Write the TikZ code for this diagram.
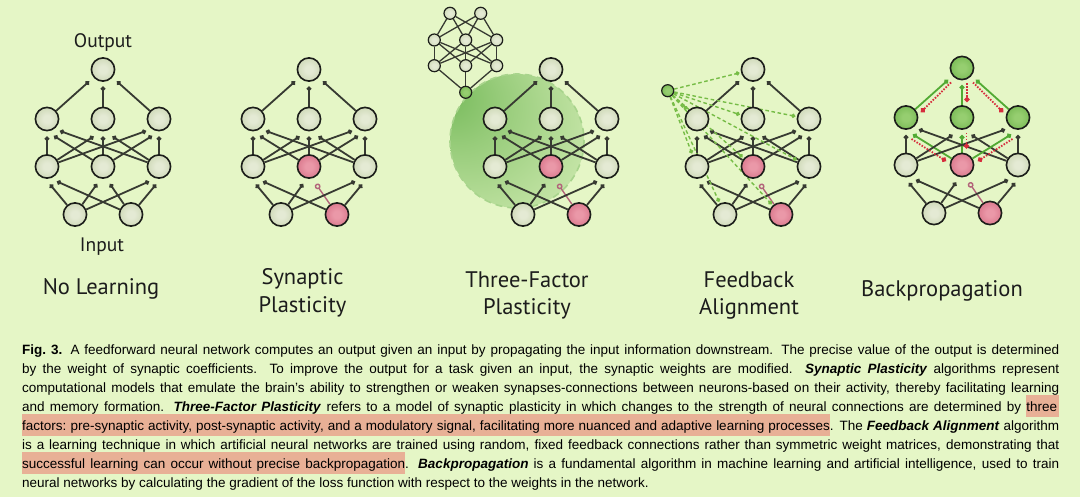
\documentclass[tikz,border=0pt]{standalone}
\usepackage{fontspec}
\setmainfont{Liberation Sans}
\newfontfamily\titlefont{PT Sans}
\usetikzlibrary{arrows.meta,calc}
\pgfdeclarelayer{bg}
\pgfsetlayers{bg,main}
\definecolor{bgc}{RGB}{229,246,198}
\definecolor{edgec}{RGB}{55,58,50}
\definecolor{nodeborder}{RGB}{28,30,26}
\definecolor{nA}{RGB}{228,234,212}
\definecolor{nB}{RGB}{180,196,148}
\definecolor{rA}{RGB}{234,152,168}
\definecolor{rB}{RGB}{198,80,106}
\definecolor{gA}{RGB}{150,206,112}
\definecolor{gB}{RGB}{88,164,54}
\definecolor{pinkc}{RGB}{178,100,122}
\definecolor{fbc}{RGB}{118,188,70}
\definecolor{bpg}{RGB}{82,170,52}
\definecolor{bpr}{RGB}{214,44,60}
\definecolor{glowc}{RGB}{118,186,90}
\colorlet{glowA}{glowc!70!bgc}
\colorlet{glowB}{glowc!22!bgc}
\definecolor{dashc}{RGB}{168,212,140}
\definecolor{hlc}{RGB}{232,176,150}
\definecolor{txt}{RGB}{28,28,28}
\pgfdeclareradialshading{neutralsh}{\pgfpoint{0bp}{0bp}}{color(0bp)=(nA); color(8bp)=(nA); color(50bp)=(nB)}
\pgfdeclareradialshading{redsh}{\pgfpoint{0bp}{0bp}}{color(0bp)=(rA); color(8bp)=(rA); color(50bp)=(rB)}
\pgfdeclareradialshading{greensh}{\pgfpoint{0bp}{0bp}}{color(0bp)=(gA); color(8bp)=(gA); color(50bp)=(gB)}
\pgfdeclareradialshading{glowsh}{\pgfpoint{-28bp}{18bp}}{color(0bp)=(glowc); color(16bp)=(glowA); color(45bp)=(glowB); color(72bp)=(bgc)}
% highlight helpers
\newcommand\hlbox[1]{\setbox0=\hbox{#1}\rlap{\textcolor{hlc}{\rule[-5.3pt]{\wd0}{21.8pt}}}\box0}
\newcommand\hlspace{{\color{hlc}\leaders\hrule height 16.5pt depth 5.3pt\hskip\fontdimen2\font plus\fontdimen3\font minus\fontdimen4\font}}
\def\hlwords#1 #2\hlend{\hlbox{#1}\if\relax\detokenize{#2}\relax\else\hlspace\hlwords#2\hlend\fi}
\newcommand\hl[1]{\hlwords#1 \hlend}
% network helpers
\newcommand\netnodes[7]{%
 \node[#3] (#1o) at ({#2},{#7+69.5}) {};
 \node[#4] (#1h1) at ({#2-56},{#7+119}) {};
 \node[#4] (#1h2) at ({#2},{#7+119}) {};
 \node[#4] (#1h3) at ({#2+56},{#7+119}) {};
 \node[neuron] (#1l1) at ({#2-56},{#7+166.5}) {};
 \node[#5] (#1l2) at ({#2},{#7+166.5}) {};
 \node[neuron] (#1l3) at ({#2+56},{#7+166.5}) {};
 \node[neuron] (#1i1) at ({#2-28},{#7+214.5}) {};
 \node[#6] (#1i2) at ({#2+28},{#7+214.5}) {};
}
\newcommand\stdedges[4]{%
 \draw[#2] (#1h1) -- ($(#1o)+(-14,12)$);
 \draw[#2] (#1h2) -- ($(#1o)+(0,17)$);
 \draw[#2] (#1h3) -- ($(#1o)+(14,12)$);
 \draw[conn] (#1l1) -- ($(#1h1)+(0,17.5)$);
 \draw[#3] (#1l2) -- ($(#1h1)+(7,17)$);
 \draw[conn] (#1l3) -- ($(#1h1)+(13,12)$);
 \draw[conn] (#1l1) -- ($(#1h2)+(-9.5,17.5)$);
 \draw[#3] (#1l2) -- ($(#1h2)+(0,17.5)$);
 \draw[conn] (#1l3) -- ($(#1h2)+(9.5,17.5)$);
 \draw[conn] (#1l1) -- ($(#1h3)+(-13,12)$);
 \draw[#3] (#1l2) -- ($(#1h3)+(-7,17)$);
 \draw[conn] (#1l3) -- ($(#1h3)+(0,17.5)$);
 \draw[conn] (#1i1) -- ($(#1l1)+(3,18)$);
 \draw[conn] (#1i2) -- ($(#1l1)+(10,15)$);
 \draw[conn] (#1i1) -- ($(#1l2)+(-6,17.5)$);
 \draw[#4] (#1i2) -- ($(#1l2)+(7,17.5)$);
 \draw[conn] (#1i1) -- ($(#1l3)+(-10,15)$);
 \draw[conn] (#1i2) -- ($(#1l3)+(-3,18)$);
}
\begin{document}
\begin{tikzpicture}[x=1pt,y=-1pt,
 neuron/.style={circle, draw=nodeborder, line width=1.6pt, minimum size=23.2pt, inner sep=0pt, shade, shading=neutralsh},
 redn/.style={neuron, shading=redsh},
 greenn/.style={neuron, shading=greensh},
 smalln/.style={neuron, minimum size=12pt, line width=1.2pt},
 smallg/.style={smalln, shading=greensh},
 conn/.style={draw=edgec, line width=1.8pt, -{Circle[length=4.6pt]}},
 plainconn/.style={draw=edgec, line width=1.3pt},
 pinkconn/.style={draw=pinkc, line width=1.4pt, -{Circle[open,length=5.8pt]}},
 bpconn/.style={draw=bpg, line width=1.8pt, -{Circle[length=4.8pt]}},
 bpdot/.style={draw=bpr, line width=1.8pt, dash pattern=on 1.5pt off 1.5pt, -{Circle[length=5pt]}},
 fbconn/.style={draw=fbc, line width=1.4pt, dash pattern=on 3.6pt off 2.6pt, -{Circle[length=4.2pt]}},
 titlet/.style={font=\titlefont\fontsize{22.5}{27}\selectfont, text=txt, anchor=base, inner sep=0pt},
 labelt/.style={font=\titlefont\fontsize{19.5}{24}\selectfont, text=txt, anchor=base, inner sep=0pt},
 capline/.style={anchor=base west, inner sep=0pt, font=\fontsize{13.5}{16}\selectfont, text=black},
]
\useasboundingbox (0,0) rectangle (1080,497);

% ---------- networks ----------
\netnodes{a}{103}{neuron}{neuron}{neuron}{neuron}{0}
\netnodes{b}{309}{neuron}{neuron}{redn}{redn}{0}
\netnodes{c}{551}{neuron}{neuron}{redn}{redn}{0}
\netnodes{d}{753}{neuron}{neuron}{redn}{redn}{0}
\netnodes{e}{962}{greenn}{greenn}{redn}{redn}{-1.5}

% small modulatory network (three-factor)
\node[smalln] (s1) at (450,13.3) {};
\node[smalln] (s2) at (480.7,13.3) {};
\node[smalln] (s3) at (434.3,40) {};
\node[smalln] (s4) at (465.7,40) {};
\node[smalln] (s5) at (496.7,40) {};
\node[smalln] (s6) at (434.3,65.7) {};
\node[smalln] (s7) at (465.7,65.7) {};
\node[smalln] (s8) at (496.7,65.7) {};
\node[smallg] (sg) at (465.7,92.3) {};

% feedback node
\node[smallg] (fb) at (667.7,90.7) {};

% ---------- labels ----------
\node[labelt] (outl) at (103,47.3) {Output};
\node[labelt] (inl) at (102,251.7) {Input};
\node[titlet] (t1) at (101,294.3) {No Learning};
\node[titlet] (t2a) at (302.5,285) {Synaptic};
\node[titlet] (t2b) at (302.5,312.3) {Plasticity};
\node[titlet] (t3a) at (527,287.3) {Three-Factor};
\node[titlet] (t3b) at (527,314.3) {Plasticity};
\node[titlet] (t4a) at (749,287.3) {Feedback};
\node[titlet] (t4b) at (749,314.3) {Alignment};
\node[titlet] (t5) at (942,296.7) {Backpropagation};

% ---------- caption ----------
\node[capline] (cap8) at (22,487.3) {\hbox{neural networks by calculating the gradient of the loss function with respect to the weights in the network.}};
\node[capline] (cap7) at (22,468.4) {\hbox to 1037pt{\hl{successful learning can occur without precise backpropagation}. \textbf{\textit{Backpropagation}} is a fundamental algorithm in machine learning and artificial intelligence, used to train}};
\node[capline] (cap6) at (22,449.5) {\hbox to 1037pt{is a learning technique in which artificial neural networks are trained using random, fixed feedback connections rather than symmetric weight matrices, demonstrating that}};
\node[capline] (cap5) at (22,430.6) {\hbox to 1037pt{\hl{factors: pre-synaptic activity, post-synaptic activity, and a modulatory signal, facilitating more nuanced and adaptive learning processes}. The \textbf{\textit{Feedback Alignment}} algorithm}};
\node[capline] (cap4) at (22,411.7) {\hbox to 1037pt{and memory formation. \textbf{\textit{Three-Factor Plasticity}} refers to a model of synaptic plasticity in which changes to the strength of neural connections are determined by \hlbox{three\kern2pt}}};
\node[capline] (cap3) at (22,392.8) {\hbox to 1037pt{computational models that emulate the brain’s ability to strengthen or weaken synapses-connections between neurons-based on their activity, thereby facilitating learning}};
\node[capline] (cap2) at (22,373.9) {\hbox to 1037pt{by the weight of synaptic coefficients. To improve the output for a task given an input, the synaptic weights are modified. \textbf{\textit{Synaptic Plasticity}} algorithms represent}};
\node[capline] (cap1) at (22,355) {\hbox to 1037pt{\textbf{Fig.\ 3.} A feedforward neural network computes an output given an input by propagating the input information downstream. The precise value of the output is determined}};

% ---------- background layer ----------
\begin{pgfonlayer}{bg}
 \fill[bgc] (0,0) rectangle (1080,497);
 % modulatory glow
 \begin{scope}
  \clip (517,141) circle[radius=67];
  \shade[shading=glowsh] (517,141) circle[radius=67];
 \end{scope}
 \draw[dashc, line width=1.6pt, dash pattern=on 7pt off 5pt] (517,141) circle[radius=67];
 % standard connections
 \stdedges{a}{conn}{conn}{conn}
 \stdedges{b}{conn}{conn}{pinkconn}
 \stdedges{c}{conn}{conn}{pinkconn}
 \stdedges{d}{conn}{conn}{pinkconn}
 \stdedges{e}{bpconn}{bpconn}{pinkconn}
 % small network
 \foreach \p in {s1,s2} \foreach \q in {s3,s4,s5} \draw[plainconn] (\p) -- (\q);
 \foreach \p in {s3,s4,s5} \foreach \q in {s6,s7,s8} \draw[plainconn] (\p) -- (\q);
 \foreach \p in {s6,s7,s8} \draw[plainconn] (\p) -- (sg);
 % feedback alignment
 \foreach \t in {do,dh1,dh2,dh3,dl1,dl2,dl3,di1,di2}
   \draw[fbconn] (fb) -- ($(\t)!14pt!(fb)$);
 % backpropagated error signals
 \draw[bpdot] ($(eo)+(-11,14.5)$) -- ($(eh1)+(15,-5.5)$);
 \draw[bpdot] ($(eo)+(5,15.5)$) -- ($(eh2)+(5,-15.5)$);
 \draw[bpdot] ($(eo)+(11,14.5)$) -- ($(eh3)+(-15,-5.5)$);
 \draw[bpdot] ($(eh1)+(5.5,21.5)$) -- ($(el2)+(-16,-4)$);
 \draw[bpdot] ($(eh2)+(4.5,15.5)$) -- ($(el2)+(4.5,-16.5)$);
 \draw[bpdot] ($(eh3)+(-5.5,21.5)$) -- ($(el2)+(16,-4)$);
\end{pgfonlayer}
\end{tikzpicture}
\end{document}
